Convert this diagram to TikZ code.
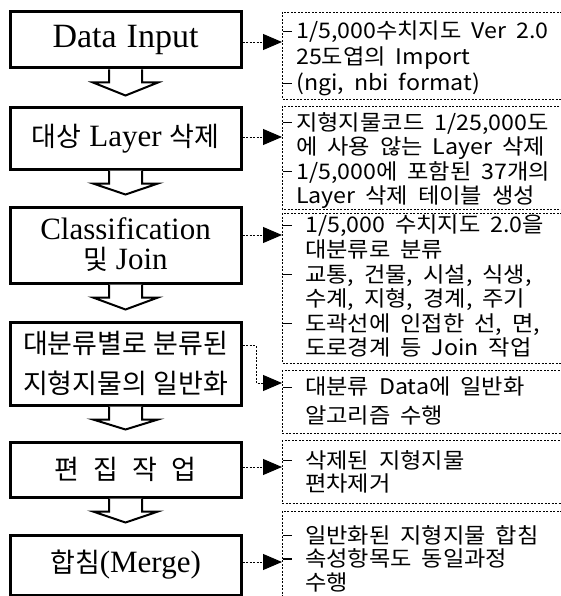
\documentclass[tikz,border=0pt]{standalone}
\usepackage{fontspec}
\setmainfont{Liberation Serif}
\newfontfamily\kr{Noto Sans CJK KR}
\newfontfamily\krW{Noto Sans CJK KR}[WordSpace=1.9, FakeStretch=1.08]
\usetikzlibrary{arrows.meta,calc}
\newcommand\krL{\kr\fontsize{27}{30}\selectfont}
\newcommand\dshA{\makebox[13pt][l]{\rule[7pt]{9pt}{1.3pt}}}
\newcommand\indA{\hspace*{13pt}}
\newcommand\dshB{\makebox[22pt][l]{\rule[7pt]{9pt}{1.3pt}}}
\newcommand\indB{\hspace*{22pt}}
\tikzset{
  stage/.style={draw, line width=3pt, minimum width=231pt, align=center, inner sep=0pt,
    font=\fontsize{31}{30}\selectfont},
  note/.style={draw, dash pattern=on 2pt off 1.5pt, line width=0.9pt},
  notetext/.style={anchor=north west, inner sep=0pt, align=left},
  link/.style={line width=0.9pt, dash pattern=on 2pt off 1.5pt, -{Triangle[length=19pt,width=16pt]}},
  flow/.style={draw, line width=2pt, fill=white, line join=miter}
}
\newcommand\flowarrow[2]{%
  \draw[flow] ($(#1.south)+(-16.5,0)$) -- ++(0,13) -- ++(-16,0) -- ($(#2.north)+(0,-11)$)
    -- ($(#1.south)+(32.5,13)$) -- ++(-16,0) -- ($(#1.south)+(16.5,0)$);}
\begin{document}
\begin{tikzpicture}[x=1pt,y=-1pt]
\useasboundingbox (0,0) rectangle (560,596);
\fill[white] (0,0) rectangle (560,596);
% left stages
\node[stage, minimum height=56, font=\fontsize{34}{36}\selectfont] (b1) at (125.5,40) {Data\hspace{10pt}Input};
\node[stage, minimum height=61] (b2) at (125.5,138.5) {{\krL 대상} Layer {\krL 삭제}};
\node[stage, minimum height=76] (b3) at (125.5,245) {Classification\\{\krL 및} Join};
\node[stage, minimum height=83, font=\krL\fontsize{27}{40}\selectfont] (b4) at (125.5,363.5) {대분류별로 분류된\\지형지물의 일반화};
\node[stage, minimum height=55, font=\krL] (b5) at (125.5,469.5) {편\hspace{14pt}집\hspace{14pt}작\hspace{14pt}업};
\node[stage, minimum height=60] (b6) at (125.5,565) {{\krL 합침}(Merge)};
\flowarrow{b1}{b2}
\flowarrow{b2}{b3}
\flowarrow{b3}{b4}
\flowarrow{b4}{b5}
\flowarrow{b5}{b6}
% right notes
\draw[note] (282,12) rectangle (566,99);
\coordinate (r1) at (282,42);
\draw[note] (282,106) rectangle (566,209);
\coordinate (r2) at (282,137);
\draw[note] (282,213) rectangle (566,363);
\coordinate (r3) at (282,235);
\draw[note] (282,370) rectangle (566,433);
\coordinate (r4) at (282,383);
\draw[note] (282,440) rectangle (566,503);
\coordinate (r5) at (282,467);
\draw[note] (282,511) rectangle (566,605);
\coordinate (r6) at (282,562);
\node[notetext, font=\krW\fontsize{21.5}{26}\selectfont] (t1) at (283,21)
 {\dshA 1/5,000수치지도 Ver 2.0\\\indA 25도엽의 Import\\\dshA (ngi, nbi format)};
\node[notetext, font=\krW\fontsize{21.5}{24.5}\selectfont] (t2) at (283,112)
 {\dshA 지형지물코드 1/25,000도\\\indA 에 사용 않는 Layer 삭제\\\dshA 1/5,000에 포함된 37개의\\\indA Layer 삭제 테이블 생성};
\node[notetext, font=\krW\fontsize{21.5}{24.6}\selectfont] (t3) at (283,215)
 {\dshB 1/5,000 수치지도 2.0을\\\indB 대분류로 분류\\\dshB 교통, 건물, 시설, 식생,\\\indB 수계, 지형, 경계, 주기\\\dshB 도곽선에 인접한 선, 면,\\\indB 도로경계 등 Join 작업};
\node[notetext, font=\krW\fontsize{21.5}{29}\selectfont] (t4) at (283,377)
 {\dshB 대분류 Data에 일반화\\\indB 알고리즘 수행};
\node[notetext, font=\krW\fontsize{21.5}{23}\selectfont] (t5) at (283,450)
 {\dshB 삭제된 지형지물\\\indB 편차제거};
\node[notetext, font=\krW\fontsize{21.5}{23.5}\selectfont] (t6) at (283,525)
 {\dshB 일반화된 지형지물 합침\\\dshB 속성항목도 동일과정\\\indB 수행};
% links
\draw[link] (b1.east |- r1) -- (r1);
\draw[link] (b2.east |- r2) -- (r2);
\draw[link] (b3.east |- r3) -- (r3);
\draw[link] ($(b4.east)+(0,-18)$) -| ($(r4)+(-26,0)$) -- (r4);
\draw[link] (b5.east |- r5) -- (r5);
\draw[link] (b6.east |- r6) -- (r6);
\end{tikzpicture}
\end{document}
